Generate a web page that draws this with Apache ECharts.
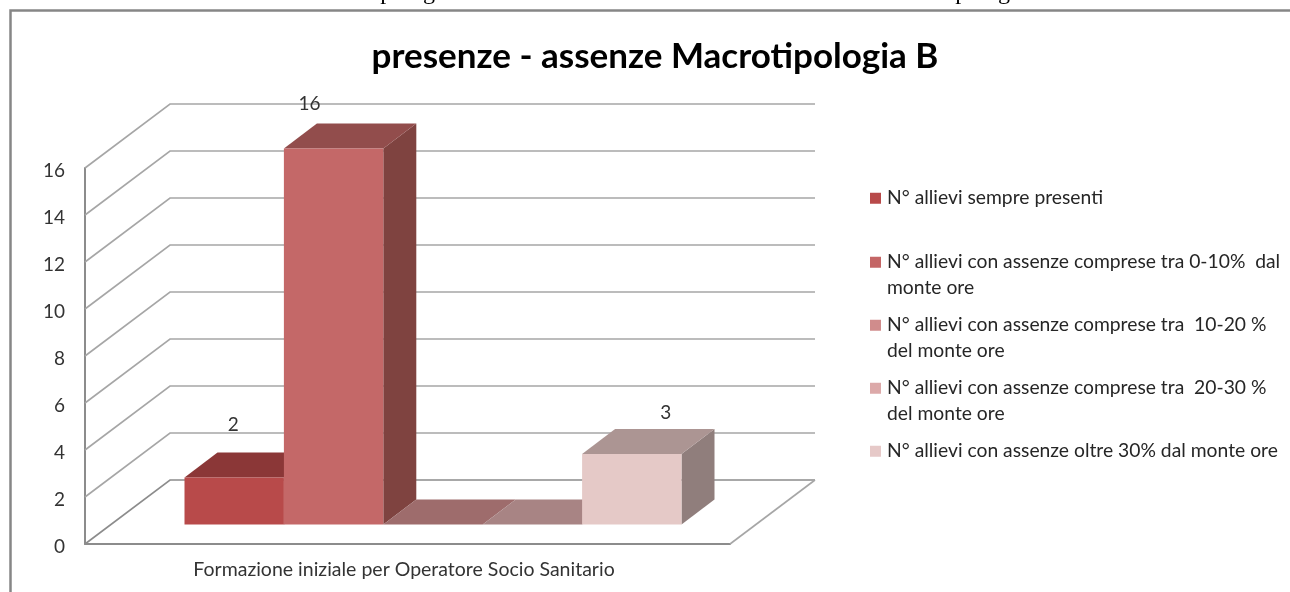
<!DOCTYPE html>
<html>
<head>
<meta charset="utf-8">
<style>html,body{margin:0;padding:0;background:#fff;overflow:hidden}#c{width:1290px;height:592px}</style>
<script src="https://cdn.jsdelivr.net/npm/echarts@6/dist/echarts.min.js"></script>
</head>
<body>
<div id="c"></div>
<script>
const categories = ['Formazione iniziale per Operatore Socio Sanitario'];
const seriesNames = [
  'N° allievi sempre presenti',
  'N° allievi con assenze comprese tra 0-10%  dal\nmonte ore',
  'N° allievi con assenze comprese tra  10-20 %\ndel monte ore',
  'N° allievi con assenze comprese tra  20-30 %\ndel monte ore',
  'N° allievi con assenze oltre 30% dal monte ore'
];
const seriesValues = [2, 16, 0, 0, 3];
const tickValues = [0, 2, 4, 6, 8, 10, 12, 14, 16];
const legendColors = ['#B84A4A', '#C46666', '#D08C8C', '#DCA9A9', '#E6C9C8'];
const frontColors = ['#B84A4A', '#C46868', '#D08C8C', '#DCA9A9', '#E5C9C7'];
const topColors = ['#8B3737', '#924D4C', '#9E6C6C', '#A88484', '#AC9593'];
const sideColors = ['#7A3030', '#7F4340', '#8A5E5E', '#927272', '#907E7C'];
const labelShift = [[-1, -53], [-24, -45], null, null, [34, -41]];

const FONT = 'Lato';
const WALL_DX = 85, WALL_DY = 64;
const BAR_INSET_X = 25.5, BAR_INSET_Y = 19.5;
const BAR_DX = 33, BAR_DY = 25;
const BARS_SHARE = 497 / 645;
const GRID_COLOR = '#A6A6A6';

function poly(points, color) {
  return { type: 'polygon', shape: { points }, style: { fill: color }, silent: true };
}

function renderWall(params, api) {
  const p = api.coord([0, api.value(1)]);
  const cs = params.coordSys;
  const right = cs.x + cs.width;
  const pts = [[cs.x, p[1]], [cs.x + WALL_DX, p[1] - WALL_DY], [right + WALL_DX, p[1] - WALL_DY]];
  const children = [{
    type: 'polyline', shape: { points: pts }, silent: true,
    style: { fill: null, stroke: api.value(1) === 0 ? '#8C8C8C' : GRID_COLOR, lineWidth: 1.6 }
  }];
  if (api.value(1) === 0) {
    children.push({
      type: 'line', silent: true,
      shape: { x1: right, y1: p[1], x2: right + WALL_DX, y2: p[1] - WALL_DY },
      style: { stroke: GRID_COLOR, lineWidth: 1.6 }
    });
  }
  return { type: 'group', children };
}

function makeBarRenderer(i) {
  return function (params, api) {
    const top = api.coord([0, api.value(1)]);
    const base = api.coord([0, 0]);
    const band = api.size([1, 0])[0];
    const w = band * BARS_SHARE / seriesValues.length;
    const x0 = top[0] + BAR_INSET_X - w * seriesValues.length / 2 + i * w;
    const x1 = x0 + w;
    const yb = base[1] - BAR_INSET_Y;
    const yt = top[1] - BAR_INSET_Y;
    const children = [
      poly([[x1, yb], [x1 + BAR_DX, yb - BAR_DY], [x1 + BAR_DX, yt - BAR_DY], [x1, yt]], sideColors[i]),
      poly([[x0, yt], [x1, yt], [x1 + BAR_DX, yt - BAR_DY], [x0 + BAR_DX, yt - BAR_DY]], topColors[i]),
      poly([[x0, yb], [x1, yb], [x1, yt], [x0, yt]], frontColors[i])
    ];
    const s = labelShift[i];
    if (s) {
      children.push({
        type: 'text', silent: true,
        style: {
          text: String(api.value(1)), x: (x0 + x1) / 2 + s[0], y: yt + s[1],
          align: 'center', verticalAlign: 'middle',
          font: '19px ' + FONT, fill: '#333333'
        }
      });
    }
    return { type: 'group', children };
  };
}

const legendIconCentres = [198, 262, 325, 388, 451];
const legends = seriesNames.map((name, i) => {
  const wrapped = name.indexOf('\n') >= 0;
  return {
    data: [name],
    left: 870,
    top: legendIconCentres[i] - (wrapped ? 38 : 12.5),
    orient: 'vertical',
    padding: 0,
    itemWidth: 11,
    itemHeight: 11,
    itemGap: 0,
    icon: 'rect',
    selectedMode: false,
    // a blank first line keeps the marker level with the first real line
    formatter: n => (wrapped ? ' \n' + n : n),
    textStyle: { fontFamily: FONT, fontSize: 19.3, color: '#262626', lineHeight: 25.5, padding: [0, 0, 0, 1] }
  };
});

const series = [{
  type: 'custom', name: 'griglia', silent: true, z: 1,
  data: tickValues.map(v => [0, v]),
  encode: { x: 0, y: 1 },
  renderItem: renderWall
}].concat(seriesNames.map((name, i) => ({
  type: 'custom', name, z: 3 + i,
  itemStyle: { color: legendColors[i] },
  data: [[0, seriesValues[i]]],
  encode: { x: 0, y: 1 },
  renderItem: makeBarRenderer(i)
})));

const chart = echarts.init(document.getElementById('c'), null, { renderer: 'canvas' });
chart.setOption({
  animation: false,
  backgroundColor: '#ffffff',
  title: {
    text: 'presenze - assenze Macrotipologia B',
    left: 650, top: 34, textAlign: 'center',
    textStyle: { fontFamily: FONT, fontWeight: 'bold', fontSize: 35, color: '#000000' }
  },
  legend: legends,
  grid: { left: 85, top: 168, width: 645, height: 376, containLabel: false },
  xAxis: {
    type: 'category', data: categories,
    axisLine: { lineStyle: { color: '#8C8C8C', width: 2 } },
    axisTick: { show: false },
    axisLabel: { margin: 16, padding: [0, 7, 0, 0], fontFamily: FONT, fontSize: 19.5, color: '#333333' }
  },
  yAxis: {
    type: 'value', min: 0, max: 16, interval: 2,
    axisLine: { show: true, lineStyle: { color: '#8C8C8C', width: 2 } },
    axisTick: { show: false },
    splitLine: { show: false },
    axisLabel: {
      margin: 20,
      formatter: '{v|{value}}',
      rich: { v: { padding: [5, 0, 0, 0], fontFamily: FONT, fontSize: 19, color: '#333333' } }
    }
  },
  series,
  graphic: [
    { type: 'polyline', silent: true, z: 100,
      shape: { points: [[10.5, 600], [10.5, 10.5], [1300, 10.5]] },
      style: { fill: null, stroke: '#868686', lineWidth: 2.5 } },
    { type: 'text', silent: true, style: { text: 'tipologia', x: 367, y: -7, verticalAlign: 'middle', font: '24px "Liberation Serif"', fill: '#000' } },
    { type: 'text', silent: true, style: { text: 'tipologia', x: 942, y: -7, verticalAlign: 'middle', font: '24px "Liberation Serif"', fill: '#000' } }
  ]
});
</script>
</body>
</html>
